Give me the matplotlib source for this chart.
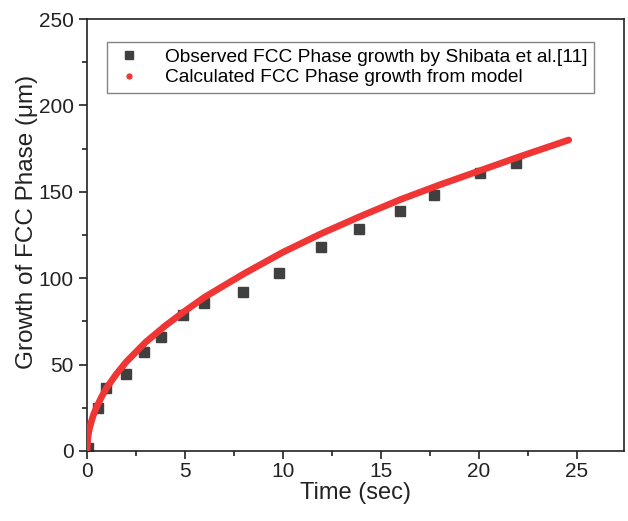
import matplotlib.pyplot as plt
import matplotlib.ticker as ticker

plt.rcParams['font.family'] = ['Liberation Sans', 'DejaVu Sans']

# observed points (Shibata et al.)
obs_t = [0.05, 0.58, 0.96, 1.98, 2.89, 3.78, 4.89, 5.96, 7.96, 9.78, 11.95, 13.9, 16.0, 17.7, 20.05, 21.9]
obs_y = [2, 25, 36.4, 44.5, 57, 66, 78.5, 85.5, 92, 103, 118, 128.5, 139, 148, 161, 166.5]

# model curve
mod_t = [0, 0.05, 0.1, 0.15, 0.25, 0.35, 0.5, 0.75, 1, 1.5, 2, 3, 4, 5, 6, 8, 10, 12, 14, 16, 18, 20, 22, 24.6]
mod_y = [0, 8, 11.5, 14, 18, 21.5, 25.6, 31.4, 36.5, 44.5, 51.5, 63, 72.5, 81, 89, 102.5, 115, 126, 136, 145.5, 154, 162, 170, 180]

fig = plt.figure(figsize=(6.28, 5.21), dpi=100)
ax = fig.add_axes([0.1385, 0.1344, 0.8545, 0.8291])

ax.plot(mod_t, mod_y, color='#f03535', linewidth=4.8, solid_capstyle='round', zorder=3,
        label='Calculated FCC Phase growth from model')
ax.plot(obs_t, obs_y, linestyle='none', marker='s', markersize=7.5, color='#404040', zorder=2,
        label='Observed FCC Phase growth by Shibata et al.[11]')

ax.set_xlim(0, 27.4)
ax.set_ylim(0, 250)
ax.xaxis.set_major_locator(ticker.MultipleLocator(5))
ax.xaxis.set_minor_locator(ticker.MultipleLocator(2.5))
ax.yaxis.set_major_locator(ticker.MultipleLocator(50))
ax.yaxis.set_minor_locator(ticker.MultipleLocator(25))
ax.tick_params(which='both', direction='out', width=1.2, labelsize=15, colors='#222222')
ax.tick_params(which='major', length=6)
ax.tick_params(which='minor', length=3.5)
ax.tick_params(axis='x', pad=2)
for s in ax.spines.values():
    s.set_linewidth(1.2)
    s.set_color('#222222')

ax.set_xlabel('Time (sec)', fontsize=17, labelpad=1, color='#222222')
ax.set_ylabel('Growth of FCC Phase (\u03bcm)', fontsize=17.5, color='#222222')
ax.yaxis.set_label_coords(-0.092, 0.53)

# legend: observed first, then model with a small dot marker
h, l = ax.get_legend_handles_labels()
dot = plt.Line2D([], [], linestyle='none', marker='o', markersize=3.5, color='#f03535')
sq = plt.Line2D([], [], linestyle='none', marker='s', markersize=6, color='#404040')
leg = ax.legend([sq, dot], [l[1], l[0]], loc='upper left', bbox_to_anchor=(0.037, 0.947),
                borderaxespad=0, fontsize=13.8, frameon=True, fancybox=False, edgecolor='#666666',
                handlelength=1.6, handletextpad=1.1, borderpad=0.35, labelspacing=0.15)
leg.get_frame().set_linewidth(1.0)

fig.savefig('out.png', dpi=100)
